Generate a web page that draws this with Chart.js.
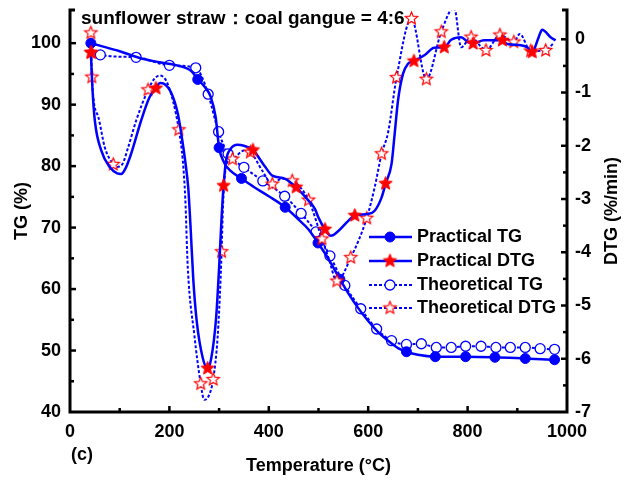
<!DOCTYPE html>
<html>
<head>
<meta charset="utf-8">
<script src="https://cdn.jsdelivr.net/npm/chart.js@4.4.0/dist/chart.umd.min.js"></script>
<style>
  html, body { margin: 0; padding: 0; background: #fff; }
  #wrap { width: 626px; height: 484px; }
</style>
</head>
<body>
<div id="wrap"><canvas id="chart" width="626" height="484"></canvas></div>
<script>
// --- Data ---
const xTicks = [0, 200, 400, 600, 800, 1000];
const tgTicks = [40, 50, 60, 70, 80, 90, 100];
const dtgTicks = [-7, -6, -5, -4, -3, -2, -1, 0];

// Practical TG (solid, filled circles)
const ptgTemp = [42, 60, 100, 140, 180, 220, 245, 257, 270, 283, 293, 300, 310, 322, 345, 370, 400, 433, 460, 480, 499, 520, 543, 560, 580, 600, 620, 640, 660, 677, 700, 735, 796, 855, 916, 975, 985];
const ptgVal = [100.0, 99.6, 98.7, 97.6, 96.9, 96.3, 95.4, 94.1, 93.0, 91.3, 88.0, 83.0, 80.6, 79.3, 78.0, 76.6, 75.1, 73.3, 71.3, 69.7, 67.5, 64.9, 61.6, 59.3, 56.9, 54.8, 53.0, 51.6, 50.4, 49.8, 49.3, 49.0, 49.0, 48.9, 48.7, 48.5, 48.5];
const ptgMarks = [42, 257, 300, 345, 433, 499, 543, 677, 735, 796, 855, 916, 975];

// Theoretical TG (dotted, open circles)
const ttgTemp = [42, 61, 133, 200, 253, 265, 278, 299, 318, 350, 388, 432, 465, 495, 523, 553, 585, 617, 647, 677, 707, 737, 767, 796, 827, 857, 886, 916, 946, 975, 985];
const ttgVal = [99.2, 98.1, 97.7, 96.4, 96.0, 94.6, 91.7, 85.6, 82.0, 79.8, 77.6, 75.1, 72.3, 69.3, 65.4, 60.6, 56.8, 53.5, 51.6, 51.0, 51.1, 50.5, 50.5, 50.7, 50.7, 50.5, 50.5, 50.5, 50.3, 50.2, 50.2];
const ttgMarks = [61, 133, 200, 253, 278, 299, 318, 350, 388, 432, 465, 495, 523, 553, 585, 617, 647, 677, 707, 737, 767, 796, 827, 857, 886, 916, 946, 975];

// Practical DTG (solid, filled stars)
const pdtgTemp = [42, 45, 50, 63, 80, 95, 103, 112, 123, 143, 160, 173, 181, 190, 203, 217, 226, 232, 238, 243, 248, 255, 267, 277, 284, 294, 300, 305, 309, 314, 323, 337, 350, 368, 393, 407, 433, 455, 480, 493, 500, 513, 525, 540, 560, 573, 600, 613, 627, 635, 647, 653, 660, 670, 680, 692, 713, 733, 753, 767, 787, 800, 811, 833, 860, 870, 880, 907, 920, 930, 943, 950, 967, 977];
const pdtgVal = [-0.25, -0.9, -1.53, -2.09, -2.4, -2.52, -2.53, -2.42, -2.15, -1.53, -1.09, -0.92, -0.82, -0.84, -0.99, -1.4, -1.9, -2.3, -2.8, -3.6, -4.5, -5.3, -5.98, -6.18, -6.0, -5.23, -4.29, -3.35, -2.75, -2.28, -2.06, -1.98, -2.0, -2.08, -2.4, -2.56, -2.62, -2.78, -3.03, -3.19, -3.35, -3.57, -3.69, -3.6, -3.41, -3.31, -3.28, -3.22, -2.97, -2.71, -2.34, -1.8, -1.15, -0.65, -0.46, -0.41, -0.3, -0.16, -0.15, -0.01, 0.04, -0.05, -0.08, -0.02, -0.02, -0.02, -0.09, -0.11, -0.15, -0.24, 0.04, 0.18, 0.04, -0.02];
const pdtgMarks = [42, 173, 277, 309, 368, 455, 513, 573, 635, 692, 753, 811, 870, 930];

// Theoretical DTG (dotted, open stars)
const tdtgTemp = [42, 43, 44, 57, 70, 87, 93, 105, 117, 133, 157, 170, 180, 193, 207, 219, 227, 232, 237, 250, 263, 270, 279, 288, 297, 303, 305, 308, 315, 327, 350, 363, 387, 407, 425, 447, 480, 507, 520, 537, 565, 597, 613, 627, 640, 657, 687, 717, 747, 773, 787, 807, 825, 837, 865, 893, 905, 927, 957, 972];
const tdtgVal = [0.12, -0.25, -0.71, -1.46, -2.03, -2.35, -2.4, -2.35, -2.03, -1.53, -0.95, -0.74, -0.68, -0.77, -1.15, -1.7, -2.28, -3.0, -4.29, -5.54, -6.47, -6.77, -6.7, -6.39, -5.6, -4.5, -3.99, -3.1, -2.34, -2.25, -2.09, -2.12, -2.47, -2.72, -2.62, -2.66, -3.02, -3.75, -4.1, -4.54, -4.1, -3.36, -2.78, -2.15, -1.75, -0.72, 0.39, -0.75, 0.14, 0.6, -0.15, 0.04, -0.12, -0.21, 0.08, -0.05, 0.1, -0.22, -0.21, -0.08];
const tdtgMarks = [42, 43, 44, 87, 157, 219, 263, 288, 305, 327, 363, 407, 447, 480, 507, 537, 565, 597, 627, 657, 687, 717, 747, 807, 837, 865, 893, 927, 957];

const seriesNames = ["Practical TG", "Practical DTG", "Theoretical TG", "Theoretical DTG"];

// --- Styling ---
const FONT = '"Liberation Sans", Arial, sans-serif';
const BLUE = "#0000ff";
const RED = "#ff0000";

function makeStar(outer, fill, stroke, lw) {
  const size = Math.ceil(outer * 2 + lw + 2);
  const c = document.createElement("canvas");
  c.width = size; c.height = size;
  const g = c.getContext("2d");
  const inner = outer * 0.45;
  g.translate(size / 2, size / 2);
  g.beginPath();
  for (let i = 0; i < 10; i++) {
    const r = i % 2 ? inner : outer;
    const a = -Math.PI / 2 + i * Math.PI / 5;
    g[i ? "lineTo" : "moveTo"](r * Math.cos(a), r * Math.sin(a));
  }
  g.closePath();
  g.fillStyle = fill; g.fill();
  g.lineWidth = lw; g.strokeStyle = stroke; g.stroke();
  return c;
}
const filledStar = makeStar(7, RED, RED, 1);
const openStar = makeStar(6.5, "#fff", RED, 1.2);

const pts = (t, v) => t.map((x, i) => ({ x, y: v[i] }));
const markRadius = (marks, r) => ctx => (ctx.raw && marks.includes(ctx.raw.x) ? r : 0);

// --- Plugins: frame with inward ticks, legend, free texts ---
const framePlugin = {
  id: "frame",
  afterDatasetsDraw(chart) {
    const { ctx, chartArea: a, scales } = chart;
    ctx.save();
    ctx.strokeStyle = "#000";
    ctx.lineWidth = 3;
    ctx.lineCap = "butt";
    ctx.beginPath();
    ctx.moveTo(a.left + 5, a.top); ctx.lineTo(a.left, a.top); ctx.lineTo(a.left, a.bottom);
    ctx.lineTo(a.right, a.bottom); ctx.lineTo(a.right, a.top); ctx.lineTo(a.right - 5, a.top);
    ctx.stroke();
    ctx.lineWidth = 2.5;
    const tick = (x1, y1, x2, y2) => { ctx.beginPath(); ctx.moveTo(x1, y1); ctx.lineTo(x2, y2); ctx.stroke(); };
    for (let v = 100; v < 1000; v += 100) {
      const x = scales.x.getPixelForValue(v);
      tick(x, a.bottom, x, a.bottom - (v % 200 ? 4 : 6));
    }
    for (let v = 45; v <= 100; v += 5) {
      const y = scales.y.getPixelForValue(v);
      tick(a.left, y, a.left + (v % 10 ? 4 : 6), y);
    }
    for (let v = -6.5; v <= 0; v += 0.5) {
      const y = scales.y1.getPixelForValue(v);
      tick(a.right, y, a.right - (Number.isInteger(v) ? 6 : 4), y);
    }
    ctx.restore();
  },
  afterDraw(chart) {
    const { ctx } = chart;
    ctx.save();
    ctx.fillStyle = "#000";
    ctx.font = `bold 19px ${FONT}`;
    ctx.textAlign = "left";
    ctx.textBaseline = "alphabetic";
    ctx.fillText("sunflower straw：coal gangue = 4:6", 81, 24);
    ctx.font = `bold 18px ${FONT}`;
    ctx.textBaseline = "middle";
    ctx.fillText("(c)", 71, 455);
    // right axis title, reading bottom to top
    ctx.translate(612, 211);
    ctx.rotate(-Math.PI / 2);
    ctx.textAlign = "center";
    ctx.fillText("DTG (%/min)", 0, 0);
    ctx.restore();

    // legend
    ctx.save();
    const rows = [237, 261, 285, 308];
    chart.data.datasets.forEach((ds, i) => {
      const y = rows[i];
      ctx.strokeStyle = ds.borderColor;
      ctx.lineWidth = ds.borderWidth;
      ctx.setLineDash(ds.borderDash || []);
      ctx.beginPath(); ctx.moveTo(369, y); ctx.lineTo(412, y); ctx.stroke();
      ctx.setLineDash([]);
      ctx.fillStyle = ds.pointBackgroundColor;
      ctx.strokeStyle = ds.pointBorderColor;
      ctx.lineWidth = ds.pointBorderWidth;
      Chart.helpers.drawPoint(ctx, { pointStyle: ds.pointStyle, radius: ds.legendRadius, borderWidth: ds.pointBorderWidth, rotation: 0 }, 390, y);
      ctx.fillStyle = "#000";
      ctx.font = `bold 18px ${FONT}`;
      ctx.textAlign = "left";
      ctx.textBaseline = "middle";
      ctx.fillText(ds.label, 417, y);
    });
    ctx.restore();
  }
};

const tickFont = { family: FONT, size: 18, weight: "bold" };
const plainLabel = v => String(v);

new Chart(document.getElementById("chart"), {
  type: "line",
  data: {
    datasets: [
      {
        label: seriesNames[0], yAxisID: "y", data: pts(ptgTemp, ptgVal), order: 3,
        borderColor: BLUE, borderWidth: 2.5,
        pointStyle: "circle", pointBackgroundColor: BLUE, pointBorderColor: BLUE, pointBorderWidth: 1,
        pointRadius: markRadius(ptgMarks, 5), legendRadius: 5
      },
      {
        label: seriesNames[1], yAxisID: "y1", data: pts(pdtgTemp, pdtgVal), order: 1,
        borderColor: BLUE, borderWidth: 2.5,
        pointStyle: filledStar, pointBackgroundColor: RED, pointBorderColor: RED, pointBorderWidth: 1,
        pointRadius: markRadius(pdtgMarks, 7), legendRadius: 7
      },
      {
        label: seriesNames[2], yAxisID: "y", data: pts(ttgTemp, ttgVal), order: 4,
        borderColor: BLUE, borderWidth: 2, borderDash: [3, 2],
        pointStyle: "circle", pointBackgroundColor: "#fff", pointBorderColor: BLUE, pointBorderWidth: 1.3,
        pointRadius: markRadius(ttgMarks, 5), legendRadius: 5
      },
      {
        label: seriesNames[3], yAxisID: "y1", data: pts(tdtgTemp, tdtgVal), order: 2,
        borderColor: BLUE, borderWidth: 2, borderDash: [3, 2],
        pointStyle: openStar, pointBackgroundColor: "#fff", pointBorderColor: RED, pointBorderWidth: 1.2,
        pointRadius: markRadius(tdtgMarks, 6), legendRadius: 6
      }
    ]
  },
  options: {
    responsive: false,
    animation: false,
    devicePixelRatio: 1,
    layout: { padding: { top: 10, left: 0, right: 0, bottom: 0 } },
    plugins: { legend: { display: false }, tooltip: { enabled: false } },
    elements: { line: { cubicInterpolationMode: "monotone" } },
    scales: {
      x: {
        type: "linear", min: 0, max: 1000,
        afterBuildTicks: s => { s.ticks = xTicks.map(value => ({ value })); },
        afterFit: s => { s.height = 72; s.paddingLeft = 0; s.paddingRight = 0; },
        grid: { display: false, drawTicks: false },
        border: { display: false },
        ticks: { font: tickFont, color: "#000", padding: 9, maxRotation: 0, callback: plainLabel },
        title: { display: true, text: "Temperature (°C)", font: tickFont, color: "#000", padding: { top: 0, bottom: 7 } }
      },
      y: {
        position: "left", min: 40, max: 105.4,
        afterBuildTicks: s => { s.ticks = tgTicks.map(value => ({ value })); },
        afterFit: s => { s.width = 70; s.paddingTop = 0; s.paddingBottom = 0; },
        grid: { display: false, drawTicks: false },
        border: { display: false },
        ticks: { font: tickFont, color: "#000", padding: 9, callback: plainLabel },
        title: { display: true, text: "TG (%)", font: tickFont, color: "#000", padding: { top: 11, bottom: 0 } }
      },
      y1: {
        position: "right", min: -7, max: 0.55,
        afterBuildTicks: s => { s.ticks = dtgTicks.map(value => ({ value })); },
        afterFit: s => { s.width = 59; s.paddingTop = 0; s.paddingBottom = 0; },
        grid: { display: false, drawTicks: false },
        border: { display: false },
        ticks: { font: tickFont, color: "#000", padding: 8, callback: plainLabel }
      }
    }
  },
  plugins: [framePlugin]
});
</script>
</body>
</html>
